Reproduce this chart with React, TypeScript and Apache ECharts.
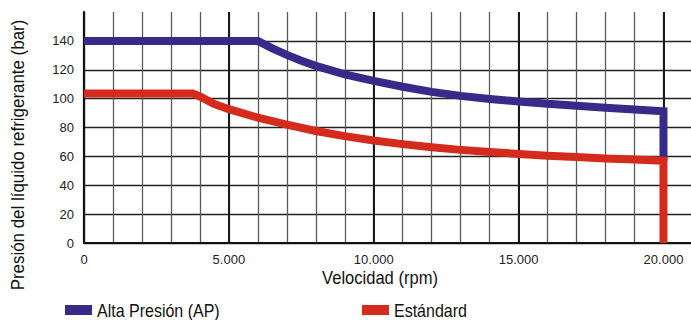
import React, { useEffect, useRef } from "react";
import * as echarts from "echarts";

const apSpeed = [0, 6000, 6500, 7000, 7500, 8000, 9000, 10000, 11000, 12000, 13000, 14000, 15000, 16000, 17000, 18000, 19000, 20000, 20000];
const apPressure = [140, 140, 134.8, 130.3, 126.2, 122.7, 116.8, 112.3, 108.2, 104.7, 101.9, 99.8, 98, 96.5, 95.1, 93.7, 92.5, 91.3, 57];

const stdSpeed = [0, 3750, 4000, 4500, 5000, 6000, 7000, 8000, 9000, 10000, 11000, 12000, 13000, 14000, 15000, 16000, 17000, 18000, 19000, 20000, 20000];
const stdPressure = [103.5, 103.5, 101.5, 96.3, 92.7, 86.8, 82, 77.6, 74, 71, 68.5, 66.3, 64.5, 63, 61.7, 60.5, 59.5, 58.6, 57.8, 57, 0];

const yTicks = [0, 20, 40, 60, 80, 100, 120, 140];
const xLabelTicks = [0, 5000, 10000, 15000, 20000];

const seriesNames = ["Alta Presión (AP)", "Estándard"];
const seriesColors = ["#382a88", "#d42b1c"];
const yTitle = "Presión del líquido refrigerante (bar)";
const xTitle = "Velocidad (rpm)";

const REG = "'Liberation Sans', Arial, sans-serif";

function fmt(v: number) {
  return String(v).replace(/\B(?=(\d{3})+(?!\d))/g, ".");
}

export default function App() {
  const ref = useRef<HTMLDivElement>(null);
  useEffect(() => {
    if (!ref.current) return;
    const chart = echarts.init(ref.current, undefined, { renderer: "svg" });
    const pair = (xs: number[], ys: number[]) => xs.map((x, i) => [x, ys[i]]);
    const legendItem = (i: number, left: number) => ({
      type: "group",
      x: left,
      y: 310,
      children: [
        { type: "rect", shape: { x: 0, y: -5, width: 27, height: 10 }, style: { fill: seriesColors[i] } },
        {
          type: "text",
          x: 32,
          y: 1,
          scaleX: 0.89,
          style: {
            text: seriesNames[i],
            fontFamily: REG,
            fontSize: 18,
            fill: "#111",
            align: "left",
            verticalAlign: "middle",
          },
        },
      ],
    });
    chart.setOption({
      animation: false,
      backgroundColor: "#ffffff",
      grid: { left: 84, right: 0, top: 12, bottom: 77, containLabel: false },
      xAxis: [
        {
          type: "value",
          min: 0,
          max: 20950,
          interval: 1000,
          axisLine: { show: false },
          axisTick: { show: false },
          axisLabel: { show: false },
          splitLine: { show: true, showMaxLine: false, lineStyle: { color: "#5a5a5a", width: 1.3 } },
        },
        {
          type: "value",
          min: 0,
          max: 20950,
          interval: 5000,
          position: "bottom",
          axisLine: { show: true, onZero: false, lineStyle: { color: "#111", width: 2.2 } },
          axisTick: { show: false },
          axisLabel: {
            margin: 10,
            fontFamily: REG,
            fontSize: 13,
            color: "#222",
            showMaxLabel: false,
            formatter: (v: number) => (xLabelTicks.includes(v) ? fmt(v) : ""),
          },
          splitLine: { show: true, showMaxLine: false, lineStyle: { color: "#1a1a1a", width: 2 } },
        },
      ],
      yAxis: {
        type: "value",
        min: 0,
        max: 160,
        interval: 20,
        axisLine: { show: true, lineStyle: { color: "#111", width: 2.2 } },
        axisTick: { show: false },
        axisLabel: {
          margin: 10,
          fontFamily: REG,
          fontSize: 13,
          color: "#222",
          formatter: (v: number) => (yTicks.includes(v) ? String(v) : ""),
        },
        splitLine: { show: true, showMaxLine: false, lineStyle: { color: "#222", width: 1.3 } },
      },
      graphic: [
        {
          type: "text",
          x: 18,
          y: 155,
          rotation: Math.PI / 2,
          scaleX: 0.94,
          style: {
            text: yTitle,
            fontFamily: REG,
            fontSize: 18,
            fill: "#111",
            align: "center",
            verticalAlign: "middle",
          },
        },
        {
          type: "text",
          x: 380,
          y: 278,
          scaleX: 0.92,
          style: {
            text: xTitle,
            fontFamily: REG,
            fontSize: 18,
            fill: "#111",
            align: "center",
            verticalAlign: "middle",
          },
        },
        legendItem(0, 65),
        legendItem(1, 362),
      ],
      series: [
        {
          name: seriesNames[0],
          type: "line",
          xAxisIndex: 0,
          data: pair(apSpeed, apPressure),
          symbol: "none",
          color: seriesColors[0],
          lineStyle: { width: 8, color: seriesColors[0], cap: "butt", join: "miter" },
          z: 3,
        },
        {
          name: seriesNames[1],
          type: "line",
          xAxisIndex: 0,
          data: pair(stdSpeed, stdPressure),
          symbol: "none",
          color: seriesColors[1],
          lineStyle: { width: 8, color: seriesColors[1], cap: "butt", join: "miter" },
          z: 4,
        },
      ],
    });
    return () => chart.dispose();
  }, []);
  return (
    <div
      ref={ref}
      style={{ position: "fixed", left: 0, top: 0, width: 691, height: 320, background: "#fff" }}
    />
  );
}
